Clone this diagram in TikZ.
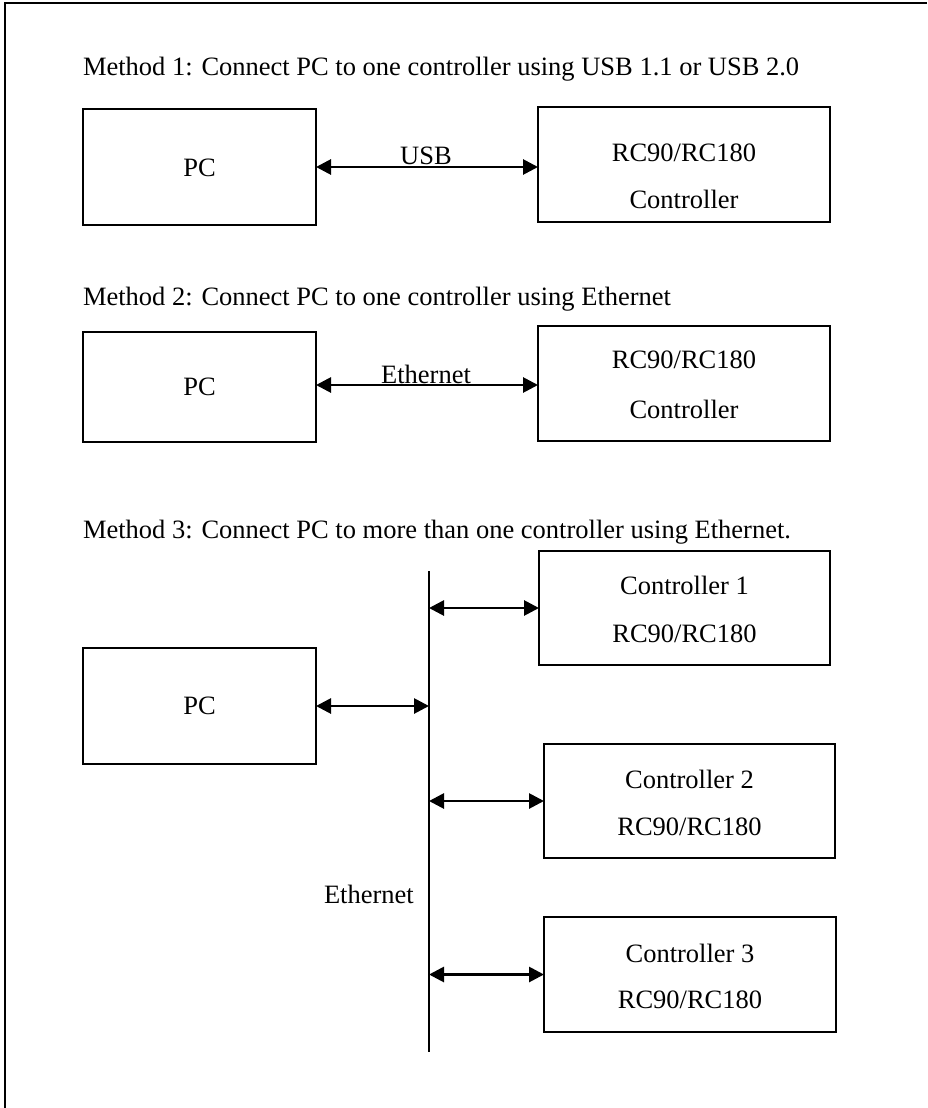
\documentclass[tikz,border=0pt]{standalone}
\usepackage{fontspec}
\setmainfont{Liberation Serif}
\usetikzlibrary{arrows.meta}
\begin{document}
\begin{tikzpicture}[x=1pt,y=-1pt,
  every node/.style={font=\fontsize{26.5}{30}\selectfont, inner sep=0pt, outer sep=0pt},
  box/.style={draw, line width=1.6pt, minimum width=#1},
  box/.default=233pt,
  txt/.style={anchor=base},
  title/.style={anchor=base west},
  link/.style={line width=2.8pt, {Triangle[length=15pt,width=15pt]}-{Triangle[length=15pt,width=15pt]}},
  frame/.style={line width=1.6pt}]
\useasboundingbox (0,0) rectangle (927,1108);
% frame
\coordinate (ftl) at (5,3);
\coordinate (ftr) at (927,3);
\coordinate (fbl) at (5,1108);
\draw[frame] (fbl) -- (ftl) -- (ftr);

% Method 1
\node[title] (t1) at (83,75) {Method 1: Connect PC to one controller using USB 1.1 or USB 2.0};
\node[box, minimum height=116pt] (pc1) at (199.5,167) {};
\node[box=292pt, minimum height=115pt] (ctl1) at (684,164.5) {};
\node[txt] (pc1t) at (199.5,176) {PC};
\node[txt] (ctl1a) at (684,161) {RC90/RC180};
\node[txt] (ctl1b) at (684,208) {Controller};
\draw[link] (pc1.east) -- (pc1.east -| ctl1.west);
\node[txt] (usb) at (426,164) {USB};

% Method 2
\node[title] (t2) at (83,305) {Method 2: Connect PC to one controller using Ethernet};
\node[box, minimum height=110pt] (pc2) at (199.5,387) {};
\node[box=292pt, minimum height=115pt] (ctl2) at (684,383.5) {};
\node[txt] (pc2t) at (199.5,395) {PC};
\node[txt] (ctl2a) at (684,368) {RC90/RC180};
\node[txt] (ctl2b) at (684,418) {Controller};
\coordinate (a2s) at (316,385);
\draw[link] (a2s) -- (a2s -| ctl2.west);
\node[txt] (eth2) at (426,383) {Ethernet};

% Method 3
\node[title] (t3) at (83,538) {Method 3: Connect PC to more than one controller using Ethernet.};
\node[box, minimum height=116pt] (pc3) at (199.5,706) {};
\node[txt] (pc3t) at (199.5,714) {PC};
\node[box=291pt, minimum height=114pt] (c1) at (684.5,608) {};
\node[txt] (c1a) at (684.5,594) {Controller 1};
\node[txt] (c1b) at (684.5,642) {RC90/RC180};
\node[box=291pt, minimum height=114pt] (c2) at (689.5,801) {};
\node[txt] (c2a) at (689.5,788) {Controller 2};
\node[txt] (c2b) at (689.5,835) {RC90/RC180};
\node[box=292pt, minimum height=115pt] (c3) at (690,974.5) {};
\node[txt] (c3a) at (690,962) {Controller 3};
\node[txt] (c3b) at (690,1008) {RC90/RC180};

\coordinate (bustop) at (429,571);
\coordinate (busbot) at (429,1052);
\draw[line width=1.6pt] (bustop) -- (busbot);
\node[anchor=base west] (eth3) at (324,903) {Ethernet};

\draw[link] (pc3.east) -- (pc3.east -| bustop);
\draw[link] (c1.west -| bustop) -- (c1.west);
\draw[link] (c2.west -| bustop) -- (c2.west);
\draw[link] (c3.west -| bustop) -- (c3.west);
\end{tikzpicture}
\end{document}
